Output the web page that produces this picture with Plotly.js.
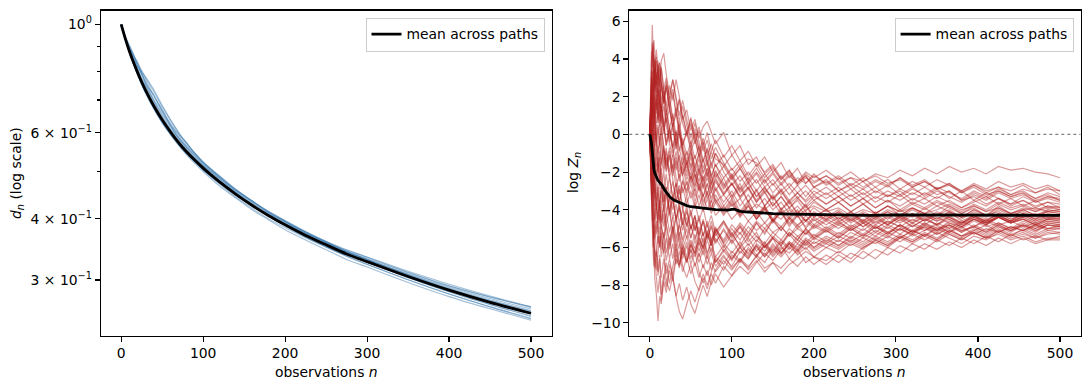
<!DOCTYPE html>
<html><head><meta charset="utf-8">
<script src="https://cdn.plot.ly/plotly-3.0.1.min.js"></script>
<style>html,body{margin:0;padding:0;background:#fff;}#chart{width:1089px;height:390px;}</style>
</head><body><div id="chart"></div>
<script>
// ---------- left panel: d_n (log scale) ----------
const nBlue = [0,5,10,15,20,25,30,40,50,60,70,80,90,100,120,140,160,180,200,225,250,275,300,350,400,450,500];
const dMean = [1.000,0.935,0.881,0.836,0.797,0.762,0.732,0.680,0.638,0.603,0.573,0.548,0.527,0.508,0.476,0.449,0.426,0.406,0.389,0.370,0.354,0.339,0.327,0.305,0.286,0.270,0.2565];
const d01 = [1.000,0.944,0.903,0.865,0.833,0.804,0.776,0.728,0.679,0.636,0.599,0.570,0.545,0.523,0.488,0.458,0.434,0.412,0.395,0.374,0.358,0.342,0.330,0.308,0.289,0.273,0.2596];
const d02 = [1.000,0.940,0.894,0.857,0.821,0.789,0.761,0.711,0.667,0.627,0.593,0.564,0.543,0.521,0.486,0.456,0.432,0.411,0.393,0.374,0.359,0.345,0.334,0.311,0.292,0.277,0.2637];
const d03 = [1.000,0.940,0.890,0.849,0.813,0.777,0.750,0.697,0.654,0.618,0.584,0.559,0.538,0.516,0.483,0.453,0.430,0.409,0.391,0.372,0.356,0.340,0.327,0.3035,0.2837,0.2673,0.2534];
const d04 = [1.000,0.932,0.877,0.829,0.789,0.754,0.723,0.672,0.630,0.595,0.566,0.540,0.519,0.500,0.467,0.441,0.417,0.398,0.380,0.362,0.346,0.3305,0.3188,0.2965,0.2774,0.2619,0.2483];
const d05 = [1.000,0.933,0.878,0.832,0.793,0.756,0.726,0.673,0.632,0.597,0.568,0.544,0.523,0.505,0.474,0.448,0.426,0.407,0.391,0.373,0.3575,0.3434,0.3319,0.3105,0.2917,0.2768,0.2642];
const d06 = [1.000,0.935,0.894,0.865,0.837,0.792,0.754,0.717,0.670,0.624,0.596,0.573,0.543,0.521,0.490,0.460,0.435,0.412,0.395,0.374,0.356,0.339,0.326,0.3035,0.2837,0.2673,0.2527];
const d07 = [1.000,0.938,0.885,0.840,0.803,0.770,0.739,0.688,0.644,0.609,0.578,0.552,0.530,0.511,0.477,0.450,0.426,0.405,0.387,0.367,0.350,0.3356,0.3231,0.3004,0.2809,0.2646,0.2506];
const d08 = [1.000,0.932,0.877,0.832,0.791,0.756,0.725,0.675,0.633,0.600,0.570,0.546,0.524,0.504,0.471,0.443,0.420,0.400,0.384,0.366,0.351,0.3373,0.326,0.305,0.2874,0.2722,0.2591];
const d09 = [1.000,0.944,0.907,0.869,0.821,0.800,0.780,0.734,0.683,0.639,0.602,0.570,0.545,0.523,0.488,0.459,0.435,0.413,0.395,0.376,0.359,0.3434,0.3303,0.3074,0.2874,0.2714,0.2578];
const d10 = [1.000,0.937,0.885,0.844,0.809,0.773,0.747,0.694,0.649,0.612,0.582,0.555,0.532,0.513,0.480,0.453,0.429,0.410,0.394,0.376,0.360,0.3458,0.3342,0.3126,0.294,0.2781,0.2647];
const d11 = [1.000,0.935,0.878,0.833,0.793,0.758,0.728,0.678,0.638,0.605,0.576,0.552,0.532,0.515,0.483,0.456,0.434,0.414,0.397,0.377,0.359,0.3431,0.3303,0.3074,0.2874,0.2708,0.2565];
const d12 = [1.000,0.942,0.894,0.853,0.821,0.792,0.758,0.700,0.660,0.621,0.587,0.559,0.535,0.513,0.478,0.451,0.427,0.406,0.388,0.368,0.351,0.3356,0.3227,0.3004,0.2809,0.2641,0.2498];
const d13 = [1.000,0.930,0.874,0.828,0.787,0.751,0.721,0.670,0.628,0.596,0.567,0.543,0.523,0.504,0.474,0.447,0.425,0.405,0.389,0.371,0.356,0.3417,0.3303,0.3087,0.2903,0.2749,0.2616];
const d14 = [1.000,0.940,0.894,0.861,0.829,0.796,0.769,0.714,0.664,0.621,0.587,0.562,0.540,0.519,0.486,0.458,0.435,0.414,0.396,0.376,0.358,0.3424,0.3296,0.3065,0.2866,0.2700,0.2557];
const bluePaths = [d01,d02,d03,d04,d05,d06,d07,d08,d09,d10,d11,d12,d13,d14];
const leftYTicks = [1, 0.6, 0.4, 0.3];
const leftYTickText = ['10<sup>0</sup>','6 × 10<sup>−1</sup>','4 × 10<sup>−1</sup>','3 × 10<sup>−1</sup>'];
const leftYMinor = [0.5, 0.7, 0.8, 0.9];

// ---------- right panel: log Z_n ----------
const nRed = [0,1,2,3,4,5,6, 8,10,12,14, 17,20,24,28,32,36,40, 45,50,55,60,65,70,75,80,
  90,100,110,120,130,140,150,160,170,180,190,200,
  215,230,245,260,275,290,305,320,335,350,365,380,395,410,425,440,455,470,485,500];
const nMean = [0,1,2,3,4,5,6,8,10,12,15,18,20,25,30,35,40,45,50,60,70,80,90,95,100,103,106,110,120,130,150,170,200,230,250,270,300,330,360,400,430,460,500];
const zMean = [0,-0.2,-0.45,-0.9,-1.5,-1.85,-2.05,-2.3,-2.45,-2.55,-2.7,-2.95,-3.05,-3.35,-3.5,-3.6,-3.68,-3.78,-3.84,-3.9,-3.95,-3.99,-4.01,-4.02,-3.98,-3.97,-4.02,-4.08,-4.12,-4.15,-4.2,-4.23,-4.26,-4.29,-4.31,-4.3,-4.27,-4.28,-4.29,-4.27,-4.28,-4.29,-4.3];
const z01 = [0,2.0,3.9,5.8,4.5,3.2,4.0, 2.6,1.5,2.4,1.0, 0.2,1.1,-0.5,-1.2,-0.4,-1.6,-2.2, -1.5,-2.6,-2.1,-3.0,-2.6,-3.4,-3.0,-3.6, -3.2,-3.8,-3.4,-4.1,-3.7,-4.0,-3.6,-4.2,-3.9,-4.3,-4.0,-3.8, -4.1,-3.9,-4.3,-4.0,-4.2,-3.8,-4.1,-3.9,-4.2,-4.0,-3.7,-4.0,-3.8,-4.1,-3.9,-4.2,-4.0,-3.9,-4.1,-4.0];
const z02 = [0,-1.5,-3.0,-4.4,-5.8,-6.5,-7.6, -8.5,-9.9,-8.6,-9.0, -7.8,-8.4,-7.2,-7.8,-6.6,-7.0,-6.2, -6.8,-5.9,-6.3,-5.5,-6.0,-5.2,-5.7,-5.0, -5.6,-4.8,-5.3,-4.6,-5.1,-4.7,-5.2,-4.9,-5.4,-5.0,-5.3,-4.8, -5.1,-4.7,-5.0,-4.6,-4.9,-5.2,-4.8,-5.1,-4.7,-5.0,-4.8,-5.1,-4.9,-4.6,-4.9,-5.1,-4.8,-5.0,-4.7,-4.8];
const z03 = [0,1.2,0.4,1.6,2.6,1.8,2.9, 2.2,3.4,2.5,3.6, 2.4,3.0,1.8,2.4,1.2,1.9,0.8, 1.3,0.2,0.8,-0.2,0.4,0.7,0.1,-0.5, 0.1,-1.1,-0.6,-1.6,-1.2,-2.1,-1.7,-2.4,-2.0,-2.6,-2.2,-2.8, -2.4,-3.0,-2.6,-2.9,-2.5,-2.8,-2.3,-2.7,-2.4,-2.9,-2.6,-3.1,-2.7,-3.0,-2.8,-3.2,-2.9,-3.1,-2.8,-3.2];
const z04 = [0,0.8,1.9,1.1,2.3,3.1,2.2, 3.3,2.4,3.5,2.6, 1.6,2.5,1.3,0.4,1.1,0.0,-0.6, 0.1,-0.9,-0.3,-1.2,-0.6,-1.5,-0.9,-1.7, -1.1,-1.9,-1.4,-2.2,-1.6,-2.3,-1.8,-2.4,-1.9,-2.5,-2.0,-2.3, -1.9,-2.4,-2.0,-2.5,-2.1,-2.3,-1.9,-2.2,-1.8,-2.1,-1.7,-2.0,-1.8,-2.1,-1.7,-1.9,-1.8,-2.0,-2.1,-2.3];
const z05 = [0,-1.3,-0.5,-1.9,-2.8,-1.9,-3.2, -4.0,-3.1,-4.4,-5.0, -4.2,-5.4,-6.1,-5.3,-6.5,-5.8,-7.0, -7.6,-6.9,-7.8,-8.3,-7.6,-8.2,-7.4,-7.9, -7.0,-7.5,-6.7,-7.1,-6.4,-6.8,-6.1,-6.5,-6.0,-6.3,-5.8,-6.2, -5.8,-6.1,-5.7,-6.0,-5.6,-5.9,-5.5,-5.8,-5.4,-5.7,-5.3,-5.6,-5.2,-5.5,-5.3,-5.6,-5.4,-5.7,-5.5,-5.5];
const z06 = [0,-0.9,0.3,-0.6,0.7,-0.2,1.0, 0.1,-1.0,-0.1,-1.3, -2.0,-1.2,-2.3,-1.6,-2.8,-2.1,-3.1, -2.5,-3.4,-2.9,-3.8,-3.2,-4.0,-3.5,-4.3, -3.8,-4.5,-4.0,-4.6,-4.1,-4.7,-4.2,-4.5,-4.0,-4.4,-4.1,-4.6, -4.2,-4.6,-4.3,-4.7,-4.4,-4.1,-4.5,-4.2,-4.6,-4.3,-4.0,-4.4,-4.2,-4.5,-4.3,-4.6,-4.4,-4.2,-4.5,-4.3];
const z07 = [0,1.8,3.5,4.8,3.9,2.6,3.4, 1.8,0.6,1.4,-0.1, -1.5,-0.7,-2.2,-3.4,-2.6,-3.9,-4.6, -3.8,-5.0,-4.3,-5.6,-6.1,-5.3,-5.9,-5.1, -5.7,-5.0,-5.6,-4.9,-5.4,-5.8,-5.2,-5.6,-5.0,-5.4,-5.1,-5.5, -5.0,-5.4,-4.9,-5.3,-4.8,-5.2,-5.0,-5.4,-5.1,-4.8,-5.2,-4.9,-5.3,-5.0,-5.2,-4.9,-5.1,-4.8,-5.1,-5.0];
const z08 = [0,0.7,-0.4,0.9,0.1,1.3,0.5, 1.7,0.8,1.9,1.0, 0.0,0.9,-0.2,0.6,-0.5,0.3,-0.6, 0.2,-0.7,0.1,-0.9,-0.2,-1.1,-0.5,-1.3, -1.6,-2.3,-1.8,-2.6,-2.1,-2.8,-2.4,-3.0,-2.6,-3.1,-2.7,-3.2, -2.8,-3.3,-2.9,-3.4,-3.0,-3.3,-2.9,-3.2,-2.8,-3.2,-3.0,-3.5,-3.1,-3.4,-3.0,-3.3,-3.1,-3.6,-3.3,-3.5];
const z09 = [0,-1.1,-2.4,-1.5,-2.9,-3.8,-2.9, -4.1,-5.2,-4.3,-5.5, -6.3,-5.5,-6.6,-5.8,-6.9,-6.2,-7.3, -6.5,-7.4,-6.8,-7.6,-6.9,-7.5,-6.8,-7.3, -6.7,-7.2,-6.6,-7.0,-6.5,-7.1,-6.8,-7.4,-6.9,-6.6,-6.2,-6.5, -6.0,-6.3,-5.8,-6.1,-5.6,-5.9,-5.4,-5.7,-5.3,-5.6,-5.1,-5.4,-5.0,-5.3,-4.9,-5.2,-4.8,-5.1,-4.8,-4.9];
const z10 = [0,1.4,2.6,1.7,3.0,4.2,3.3, 4.5,3.4,2.6,3.5, 2.2,1.2,2.0,0.8,-0.3,0.5,-0.8, -1.6,-0.8,-2.0,-1.3,-2.4,-1.8,-2.7,-2.1, -2.9,-2.3,-3.1,-2.6,-3.3,-2.8,-3.4,-2.9,-3.5,-3.1,-3.6,-3.2, -3.7,-3.3,-3.8,-3.4,-3.9,-3.5,-3.8,-3.4,-3.7,-3.3,-3.6,-3.9,-3.5,-3.8,-3.4,-3.7,-3.5,-3.8,-3.6,-3.7];
const z11 = [0,-1.6,-3.2,-4.6,-3.7,-5.1,-6.4, -7.6,-8.4,-7.5,-8.8, -7.6,-6.8,-7.9,-7.0,-6.1,-6.9,-5.8, -6.5,-5.6,-6.3,-5.4,-6.1,-5.3,-5.9,-5.2, -4.6,-5.3,-4.7,-5.2,-4.6,-5.0,-4.5,-4.9,-4.4,-4.8,-4.5,-4.9, -4.5,-4.8,-4.4,-4.9,-4.5,-4.8,-4.4,-4.7,-4.3,-4.6,-4.4,-4.8,-4.5,-4.7,-4.4,-4.7,-4.5,-4.8,-4.5,-4.6];
const z12 = [0,1.1,2.3,3.4,2.5,3.7,2.8, 3.9,2.9,3.8,2.7, 1.7,2.6,1.4,2.2,1.0,1.8,0.6, -0.1,0.6,-0.5,0.2,-0.9,-0.3,-1.3,-0.7, -1.5,-2.2,-1.6,-2.4,-1.8,-2.5,-2.0,-2.6,-2.1,-2.7,-2.3,-2.6, -2.2,-2.7,-2.3,-2.8,-2.4,-2.7,-2.3,-2.8,-2.5,-2.9,-2.6,-3.0,-2.7,-3.1,-2.8,-3.0,-2.7,-3.1,-2.9,-3.0];
const z13 = [0,-0.7,-1.9,-1.0,-2.2,-3.1,-2.3, -3.5,-2.6,-3.8,-4.7, -3.9,-4.8,-5.6,-4.9,-5.9,-5.2,-6.1, -5.4,-6.3,-5.6,-6.5,-5.8,-6.6,-6.0,-6.8, -6.2,-6.7,-6.0,-6.5,-5.9,-6.4,-5.8,-6.3,-5.7,-6.1,-5.6,-6.0, -5.6,-5.9,-5.5,-5.8,-5.4,-5.7,-5.3,-5.6,-5.2,-5.5,-5.1,-5.4,-5.2,-5.5,-5.1,-5.4,-5.2,-5.5,-5.3,-5.2];
const z14 = [0,0.5,-0.6,-1.7,-0.8,-2.0,-1.2, -2.4,-1.5,-2.7,-1.8, -3.0,-2.1,-3.3,-2.5,-3.6,-2.9,-4.0, -3.3,-4.3,-3.6,-4.6,-3.9,-4.9,-4.3,-5.2, -4.6,-5.4,-4.9,-5.7,-5.2,-6.0,-5.5,-6.3,-5.8,-6.4,-6.0,-6.5, -6.7,-6.2,-6.6,-6.0,-5.7,-6.0,-5.5,-5.1,-5.4,-4.9,-5.2,-4.7,-4.4,-4.7,-4.3,-4.6,-4.2,-4.5,-4.0,-4.1];
const z15 = [0,0.9,1.8,0.7,1.9,2.8,3.9, 2.9,2.0,2.9,1.6, 0.6,-0.4,0.4,-0.8,-1.9,-1.1,-2.2, -3.0,-2.2,-3.3,-2.6,-3.6,-3.0,-3.9,-3.2, -4.0,-3.4,-4.2,-3.6,-4.3,-3.8,-4.5,-3.9,-4.4,-4.0,-4.6,-4.2, -4.6,-4.2,-4.7,-4.3,-4.8,-4.4,-4.7,-4.3,-4.6,-4.2,-4.5,-4.8,-4.4,-4.7,-4.3,-4.6,-4.4,-4.7,-4.5,-4.5];
const z16 = [0,-1.2,-2.5,-3.7,-4.9,-6.0,-7.1, -6.2,-7.3,-6.4,-7.6, -6.6,-7.7,-8.3,-7.5,-8.6,-7.9,-8.8, -8.1,-9.0,-9.5,-8.7,-8.0,-8.6,-7.8,-7.2, -6.5,-7.0,-6.2,-6.6,-5.8,-6.2,-5.5,-5.9,-5.2,-5.6,-5.0,-5.4, -4.9,-5.3,-4.8,-5.1,-4.6,-5.0,-4.5,-4.9,-4.5,-4.8,-4.3,-4.7,-4.4,-4.6,-4.2,-4.5,-4.3,-4.6,-4.3,-4.4];
const z17 = [0,-0.8,-2.0,-3.2,-2.3,-3.5,-4.6, -3.7,-4.9,-6.0,-5.2, -6.4,-7.4,-6.6,-7.7,-8.6,-9.4,-9.8, -9.0,-8.3,-8.9,-8.1,-7.4,-8.0,-7.3,-6.6, -7.2,-6.4,-6.8,-6.1,-6.5,-5.8,-6.2,-5.6,-6.0,-5.4,-5.8,-5.3, -5.7,-5.2,-5.5,-5.0,-5.4,-4.9,-5.3,-4.8,-5.1,-4.7,-5.0,-4.6,-4.9,-4.5,-4.8,-4.6,-4.9,-4.7,-5.0,-4.8];
const z18 = [0,1.3,0.5,1.8,1.0,2.2,1.4, 0.6,1.7,0.7,1.5, 0.4,1.3,0.2,-0.7,0.1,-0.9,-0.2, -1.1,-0.4,-1.3,-0.6,-1.5,-0.8,-1.6,-1.0, -1.7,-1.1,-1.8,-1.3,-1.5,-2.0,-1.6,-2.3,-1.9,-2.6,-2.2,-2.8, -2.5,-3.0,-2.7,-3.2,-2.8,-3.3,-3.0,-3.5,-3.1,-3.4,-3.0,-3.5,-3.3,-3.7,-3.4,-3.8,-3.5,-3.9,-3.6,-3.9];
const z19 = [0,0.4,-0.8,0.2,-1.1,-0.2,-1.4, -2.5,-1.6,-2.8,-3.8, -3.0,-4.1,-3.4,-4.5,-3.7,-4.7,-4.0, -4.9,-4.2,-5.1,-4.5,-5.4,-4.8,-5.6,-5.0, -5.8,-5.2,-6.0,-5.5,-6.2,-5.7,-6.4,-5.9,-6.6,-6.1,-6.8,-6.5, -6.9,-6.4,-6.8,-6.2,-6.6,-6.0,-6.3,-5.8,-6.1,-5.6,-5.9,-5.5,-5.8,-5.4,-5.7,-5.3,-5.6,-5.4,-5.6,-5.4];
const z20 = [0,1.5,2.8,3.9,4.6,3.6,2.5, 3.2,2.0,0.9,1.7, 0.4,-0.6,0.2,-1.0,-0.2,-1.3,-2.1, -1.4,-2.4,-1.7,-2.7,-3.3,-2.6,-3.4,-2.8, -3.6,-3.0,-3.8,-3.2,-3.9,-3.4,-4.0,-3.6,-4.2,-3.8,-4.3,-3.9, -4.4,-4.0,-4.5,-4.1,-4.4,-4.0,-4.3,-3.9,-4.2,-4.5,-4.1,-4.4,-4.0,-4.3,-4.1,-4.4,-4.0,-4.3,-4.1,-4.2];
const z21 = [0,-0.6,0.6,1.5,0.5,1.6,0.7, -0.4,0.5,-0.6,0.4, -0.8,-1.7,-0.9,-2.0,-1.2,-2.3,-1.5, -2.4,-1.8,-2.7,-2.0,-2.9,-2.3,-3.1,-2.5, -3.2,-2.6,-3.3,-2.8,-3.5,-2.9,-3.4,-3.0,-3.6,-3.1,-3.5,-3.0, -3.4,-3.0,-3.5,-3.1,-3.6,-3.2,-3.5,-3.1,-3.4,-3.0,-3.3,-3.6,-3.2,-3.5,-3.1,-3.4,-3.2,-3.5,-3.3,-3.4];
const z22 = [0,-1.0,-0.2,-1.4,-2.5,-1.6,-2.7, -3.8,-2.8,-3.9,-3.0, -4.1,-3.2,-4.3,-3.5,-4.5,-3.8,-4.8, -4.1,-5.0,-4.4,-5.3,-4.6,-5.5,-4.9,-5.7, -5.1,-5.8,-5.2,-5.9,-5.4,-6.0,-5.5,-5.9,-5.3,-5.8,-5.2,-5.6, -5.1,-5.5,-5.0,-5.4,-4.9,-5.3,-4.8,-5.2,-4.9,-5.3,-5.0,-5.4,-5.1,-4.8,-5.2,-4.9,-5.1,-4.8,-5.0,-4.9];
const z23 = [0,1.2,2.5,3.6,4.5,5.0,4.1, 3.0,3.9,2.8,1.7, 2.5,1.4,0.3,1.1,-0.1,0.7,-0.5, -1.4,-0.6,-1.7,-1.0,-2.1,-1.5,-2.5,-1.9, -2.8,-2.2,-3.0,-2.5,-3.3,-2.8,-3.5,-3.0,-3.7,-3.3,-3.9,-3.5, -4.0,-3.6,-4.1,-3.7,-4.2,-3.8,-4.1,-3.7,-4.0,-3.6,-3.9,-4.2,-3.8,-4.1,-3.7,-4.0,-3.8,-4.1,-3.9,-4.0];
const z24 = [0,-1.7,-3.4,-4.9,-6.0,-5.1,-4.2, -5.3,-4.4,-3.5,-4.6, -3.7,-4.8,-4.0,-5.1,-4.3,-5.4,-4.6, -5.5,-4.8,-5.6,-4.9,-5.8,-5.1,-5.9,-5.2, -6.0,-5.3,-5.9,-5.2,-5.7,-5.0,-5.5,-4.9,-5.4,-4.8,-5.3,-4.9, -5.2,-4.8,-5.1,-4.7,-5.0,-4.6,-4.9,-5.2,-4.8,-5.1,-4.7,-5.0,-4.6,-4.9,-4.7,-5.0,-4.6,-4.9,-4.6,-4.7];
const z25 = [0,0.6,1.4,0.5,1.7,0.8,2.0, 1.1,2.3,1.4,2.6, 1.7,2.8,1.9,2.9,2.0,1.0,1.8, 0.8,-0.2,0.6,-0.5,-1.4,-0.7,-1.8,-1.0, -2.0,-2.7,-2.2,-2.9,-2.4,-3.1,-2.6,-3.2,-2.8,-3.4,-3.0,-3.5, -3.1,-3.6,-3.2,-3.7,-3.3,-3.6,-3.2,-3.7,-3.4,-3.8,-3.5,-3.9,-3.6,-3.3,-3.7,-3.4,-3.8,-3.5,-3.9,-3.8];
const z26 = [0,-0.5,-1.5,-2.6,-1.8,-3.0,-2.2, -3.4,-4.5,-3.6,-4.8, -5.6,-4.8,-5.9,-5.1,-6.2,-5.4,-6.4, -5.7,-6.6,-5.9,-6.8,-6.1,-6.9,-6.3,-7.0, -6.4,-7.1,-6.6,-7.2,-6.7,-7.3,-6.8,-7.1,-6.6,-7.0,-6.5,-6.9, -6.4,-6.8,-6.3,-6.6,-6.1,-6.4,-5.9,-6.2,-5.8,-6.1,-5.7,-6.0,-5.6,-5.9,-5.5,-5.8,-5.5,-5.8,-5.6,-5.6];
const z27 = [0,0.8,1.6,2.4,1.5,2.7,3.5, 2.6,3.7,2.8,3.9, 4.3,3.2,2.1,2.9,1.8,0.7,1.5, 0.4,-0.5,0.3,-0.8,-1.8,-1.1,-2.2,-3.0, -2.3,-3.3,-2.6,-3.6,-2.9,-3.8,-3.2,-4.0,-3.5,-4.2,-3.7,-4.4, -4.0,-4.5,-4.1,-4.6,-4.2,-4.7,-4.3,-4.6,-4.2,-4.5,-4.1,-4.6,-4.3,-4.7,-4.4,-4.6,-4.2,-4.5,-4.3,-4.4];
const z28 = [0,-0.7,0.4,-0.5,0.8,1.7,0.9, 1.9,1.0,2.1,1.2, 2.3,1.5,2.6,1.8,2.9,2.0,1.0, 0.1,0.9,-0.2,-1.1,-0.4,-1.5,-2.3,-1.6, -2.6,-3.4,-2.8,-3.6,-3.0,-3.8,-3.3,-4.0,-3.6,-4.2,-3.8,-4.4, -4.0,-4.5,-4.1,-4.7,-4.3,-4.8,-4.4,-4.9,-4.5,-4.8,-4.4,-4.7,-4.3,-4.6,-4.4,-4.7,-4.3,-4.6,-4.4,-4.5];
const z29 = [0,-1.4,-2.7,-1.8,-3.3,-4.4,-5.5, -4.6,-5.8,-4.9,-6.1, -5.2,-6.3,-5.5,-6.6,-5.8,-6.9,-6.0, -6.8,-6.1,-7.0,-6.3,-7.1,-6.4,-7.2,-6.5, -6.9,-6.2,-6.7,-6.0,-6.5,-5.9,-6.3,-5.7,-6.1,-5.6,-5.9,-5.5, -5.8,-5.4,-5.7,-5.3,-5.6,-5.2,-5.5,-5.1,-5.4,-5.0,-5.3,-5.6,-5.2,-5.5,-5.1,-5.4,-5.0,-5.3,-5.0,-5.0];
const z30 = [0,0.3,1.1,2.0,1.2,0.3,1.2, 2.1,1.3,0.4,1.3, 0.3,-0.6,0.3,-0.7,0.2,-0.8,-1.6, -0.9,-1.8,-1.1,-2.0,-1.3,-2.2,-1.5,-2.3, -1.7,-2.4,-1.8,-2.5,-2.0,-2.6,-2.1,-2.7,-2.2,-2.6,-2.1,-2.5, -2.2,-2.6,-2.3,-2.5,-2.2,-2.6,-2.4,-2.8,-2.5,-2.9,-2.7,-3.1,-2.8,-3.2,-3.0,-3.3,-3.1,-3.4,-3.2,-3.5];
const z31 = [0,-1.2,-2.6,-1.5,-0.4,-1.6,-0.5, -1.7,-0.6,-1.9,-2.9, -2.0,-3.1,-2.3,-3.4,-2.6,-3.6,-2.8, -3.7,-3.0,-3.9,-3.2,-4.1,-3.4,-4.2,-3.6, -4.3,-3.7,-4.4,-3.8,-4.5,-3.9,-4.6,-4.0,-4.5,-4.1,-4.6,-4.2, -4.5,-4.1,-4.6,-4.2,-4.5,-4.1,-4.4,-4.0,-4.3,-4.6,-4.2,-4.5,-4.1,-4.4,-4.0,-4.3,-4.1,-4.4,-4.1,-4.2];
const z32 = [0,1.6,3.1,2.0,0.9,2.1,1.0, -0.4,-1.8,-0.9,-2.3, -3.6,-2.8,-4.1,-5.3,-4.5,-5.7,-6.6, -5.9,-6.9,-6.2,-7.3,-7.9,-7.2,-8.0,-7.4, -8.1,-7.5,-7.0,-7.4,-6.8,-6.3,-6.7,-6.1,-5.7,-6.0,-5.5,-5.8, -5.4,-5.7,-5.2,-5.5,-5.1,-5.4,-5.0,-5.3,-4.9,-5.2,-4.8,-5.1,-4.9,-5.2,-4.8,-5.1,-4.9,-5.2,-4.8,-4.9];
const z33 = [0,0.9,1.7,2.6,1.8,2.7,3.5, 2.6,3.4,3.8,2.9, 1.8,2.6,1.5,0.4,1.2,0.1,-0.9, -1.8,-1.0,-2.1,-2.9,-2.2,-3.2,-2.5,-3.5, -4.1,-3.5,-4.3,-3.7,-4.5,-3.9,-4.7,-4.1,-4.8,-4.3,-4.9,-4.4, -4.8,-4.4,-4.9,-4.5,-5.0,-4.6,-4.9,-4.5,-4.8,-4.4,-4.7,-4.9,-4.5,-4.8,-4.4,-4.7,-4.5,-4.8,-4.5,-4.6];
const z34 = [0,-1.3,-2.6,-3.8,-4.9,-5.6,-6.2, -6.5,-5.4,-6.0,-4.9, -5.5,-4.4,-3.3,-4.0,-2.9,-3.6,-2.5, -3.1,-2.2,-2.8,-1.9,-2.5,-1.8,-2.6,-2.0, -2.7,-2.1,-2.9,-2.3,-3.0,-2.4,-3.1,-2.6,-3.2,-2.7,-3.3,-2.8, -3.2,-2.8,-3.3,-2.9,-3.4,-3.0,-3.3,-2.9,-3.2,-2.8,-3.1,-3.4,-3.0,-3.3,-2.9,-3.2,-3.0,-3.4,-3.1,-3.3];
const z35 = [0,2.5,4.4,3.6,4.9,4.0,3.1, 4.1,3.0,2.0,2.8, 1.6,0.6,1.4,0.2,-0.8,0.0,-1.1, -2.0,-1.2,-2.3,-1.6,-2.6,-2.0,-2.9,-2.3, -3.1,-2.6,-3.3,-2.8,-3.6,-3.0,-3.8,-3.3,-3.9,-3.5,-4.1,-3.6, -4.0,-3.6,-4.1,-3.7,-4.2,-3.8,-4.3,-3.9,-4.2,-3.8,-4.1,-4.4,-4.0,-4.3,-3.9,-4.2,-4.0,-4.3,-4.0,-4.1];
const z36 = [0,-1.8,-3.5,-2.6,-4.2,-5.6,-4.8, -6.3,-7.5,-6.6,-8.5, -7.4,-8.1,-6.9,-7.5,-6.4,-7.1,-6.0, -6.7,-5.8,-6.5,-5.7,-6.4,-5.6,-6.3,-5.5, -6.2,-5.6,-6.3,-5.8,-6.4,-5.9,-6.5,-6.0,-6.3,-5.8,-6.1,-5.7, -6.0,-5.6,-5.9,-5.5,-5.8,-5.4,-5.7,-5.3,-5.6,-5.2,-5.5,-5.8,-5.4,-5.6,-5.2,-5.5,-5.3,-5.5,-5.2,-5.3];
const z37 = [0,0.4,-0.8,0.3,-0.9,0.2,-1.0, -2.1,-1.2,-2.4,-1.5, -0.6,-1.6,-0.7,-1.8,-0.9,-2.0,-1.2, -2.2,-1.5,-2.5,-1.8,-2.8,-2.1,-3.0,-2.4, -3.2,-2.6,-3.4,-2.9,-3.6,-3.1,-3.8,-3.3,-3.9,-3.4,-3.8,-3.3, -3.7,-3.3,-3.8,-3.4,-3.9,-3.5,-4.0,-3.6,-3.9,-3.5,-3.8,-4.1,-3.7,-4.0,-3.6,-3.9,-3.7,-4.0,-3.8,-3.9];
const z38 = [0,-0.9,-2.1,-3.3,-2.4,-3.6,-4.5, -3.6,-4.7,-3.7,-2.8, -3.9,-3.0,-4.2,-3.3,-4.5,-3.6,-4.8, -4.0,-5.1,-4.3,-5.4,-4.6,-5.6,-4.8,-5.8, -5.0,-5.7,-4.9,-5.5,-4.7,-5.3,-4.5,-5.1,-4.4,-4.9,-4.3,-4.8, -4.3,-4.7,-4.2,-4.6,-4.1,-4.5,-4.0,-4.4,-3.9,-4.3,-3.8,-4.2,-3.9,-4.3,-3.8,-4.2,-3.9,-4.1,-3.8,-4.0];
const z39 = [0,1.0,2.1,3.0,2.1,1.2,0.3, -0.9,-2.0,-1.2,-2.5, -3.6,-2.8,-4.0,-3.3,-4.6,-3.9,-5.1, -4.4,-5.5,-4.8,-5.9,-5.2,-6.3,-5.6,-6.8, -6.1,-6.6,-5.9,-6.3,-5.6,-6.0,-5.4,-5.8,-5.2,-5.6,-5.0,-5.5, -5.1,-5.5,-5.0,-5.4,-4.9,-5.3,-4.8,-5.2,-4.7,-5.1,-4.8,-5.2,-4.9,-5.2,-4.8,-5.1,-4.7,-5.0,-4.7,-4.8];
const z40 = [0,-0.5,0.7,1.8,2.8,1.9,2.9, 2.0,3.0,2.1,1.2, 2.0,1.0,1.8,0.7,1.4,0.3,1.0, 0.0,0.8,-0.3,0.4,-0.6,0.1,-0.9,-0.3, -1.2,-0.6,-1.4,-0.9,-1.7,-1.2,-2.0,-1.5,-2.3,-1.8,-2.6,-2.1, -2.7,-2.3,-2.9,-2.5,-3.1,-2.7,-3.2,-2.8,-3.3,-2.9,-3.4,-3.0,-3.5,-3.1,-3.4,-3.7,-3.3,-3.6,-3.4,-3.6];
const z41 = [0,-0.6,-1.4,-2.3,-1.4,-2.6,-3.4, -2.5,-3.7,-4.6,-3.8, -4.9,-4.1,-5.2,-4.4,-5.5,-4.7,-5.8, -5.0,-6.0,-5.3,-6.2,-5.5,-6.4,-5.7,-6.5, -5.9,-6.6,-6.0,-6.6,-6.0,-6.5,-5.9,-6.3,-5.8,-6.2,-5.7,-6.1, -5.7,-6.0,-5.6,-5.9,-5.5,-5.8,-5.4,-5.7,-5.3,-5.6,-5.2,-5.5,-5.1,-5.4,-5.0,-5.3,-5.1,-5.4,-5.1,-5.2];
const z42 = [0,0.9,0.1,1.1,0.2,1.3,2.2, 1.3,2.4,1.5,0.6, 1.5,0.5,-0.4,0.4,-0.6,0.2,-0.8, -1.6,-0.9,-1.8,-1.1,-2.0,-1.4,-2.2,-1.6, -2.3,-1.8,-2.5,-2.0,-2.6,-2.1,-2.7,-2.2,-2.8,-2.3,-2.6,-2.2, -2.6,-2.2,-2.7,-2.3,-2.8,-2.4,-2.9,-2.5,-2.8,-2.4,-2.7,-3.0,-2.6,-2.9,-2.5,-2.8,-2.6,-2.9,-2.7,-3.0];
const z43 = [0,-0.4,0.5,-0.3,0.6,-0.4,0.5, -0.6,0.4,-0.7,-1.6, -0.8,-1.9,-1.1,-2.2,-1.4,-2.5,-1.7, -2.7,-2.0,-3.0,-2.3,-3.3,-2.6,-3.6,-2.9, -3.8,-3.2,-4.1,-3.5,-4.4,-3.8,-4.6,-4.1,-4.9,-4.3,-5.0,-4.5, -5.0,-4.6,-5.1,-4.7,-5.2,-4.8,-5.1,-4.7,-5.0,-5.3,-4.9,-5.2,-4.8,-5.1,-4.7,-5.0,-4.8,-5.1,-4.8,-4.9];
const z44 = [0,-1.4,-2.5,-1.5,-0.6,0.3,-0.6, 0.5,1.2,0.3,-0.7, -1.8,-0.9,-2.0,-1.1,-2.3,-3.2,-2.4, -3.3,-2.6,-3.6,-2.8,-3.8,-3.1,-4.0,-3.4, -4.2,-3.6,-4.3,-3.8,-4.5,-4.0,-4.6,-4.1,-4.7,-4.2,-4.6,-4.1, -4.5,-4.1,-4.6,-4.2,-4.7,-4.3,-4.6,-4.2,-4.5,-4.1,-4.4,-4.7,-4.3,-4.6,-4.2,-4.5,-4.2,-4.5,-4.2,-4.3];
const z45 = [0,-1.9,-3.7,-5.2,-6.3,-7.0,-6.1, -7.2,-6.3,-5.4,-6.5, -5.6,-6.7,-5.8,-4.9,-5.7,-4.8,-5.6, -4.7,-5.5,-4.6,-5.4,-4.5,-5.3,-4.6,-5.4, -4.7,-5.5,-4.8,-5.4,-4.7,-5.2,-4.6,-5.1,-4.5,-5.0,-4.6,-5.0, -4.6,-5.0,-4.5,-4.9,-4.4,-4.8,-4.3,-4.7,-4.4,-4.8,-4.5,-4.9,-4.5,-4.8,-4.4,-4.7,-4.4,-4.7,-4.4,-4.5];
const z46 = [0,1.3,2.4,3.3,2.5,3.4,2.6, 1.5,2.5,1.4,0.3, -0.9,-2.0,-1.1,-2.4,-3.5,-2.7,-3.9, -4.8,-4.0,-5.1,-4.3,-5.4,-4.6,-5.7,-4.9, -5.8,-6.3,-5.7,-6.4,-5.9,-6.5,-6.0,-6.4,-5.8,-6.2,-5.6,-6.0, -5.5,-5.9,-5.4,-5.7,-5.2,-5.5,-5.0,-5.3,-4.8,-5.1,-4.6,-4.9,-4.5,-4.8,-4.4,-4.7,-4.5,-4.8,-4.6,-4.7];
const redPaths = [z01,z02,z03,z04,z05,z06,z07,z08,z09,z10,z11,z12,z13,z14,z15,z16,z17,z18,z19,z20,z21,z22,z23,
  z24,z25,z26,z27,z28,z29,z30,z31,z32,z33,z34,z35,z36,z37,z38,z39,z40,z41,z42,z43,z44,z45,z46];
const rightYTicks = [-10,-8,-6,-4,-2,0,2,4,6];
const xTicks = [0,100,200,300,400,500];

// ---------- drawing ----------
const W = 1089, H = 390;
const px = v => v / W, py = v => 1 - v / H;
const FONT = 'DejaVu Sans, sans-serif';
const FS = 13.9;
const traces = [];
bluePaths.forEach(p => traces.push({x: nBlue, y: p, type: 'scatter', mode: 'lines', line: {shape: 'spline', smoothing: 0.6,
  color: 'rgba(70,130,180,0.5)', width: 1.1}, xaxis: 'x', yaxis: 'y', showlegend: false, hoverinfo: 'skip'}));
traces.push({x: nBlue, y: dMean, type: 'scatter', mode: 'lines', name: 'mean across paths',
  line: {color: 'black', width: 2.8, shape: 'spline', smoothing: 0.6}, xaxis: 'x', yaxis: 'y', legend: 'legend', hoverinfo: 'skip'});
redPaths.forEach(p => traces.push({x: nRed, y: p, type: 'scatter', mode: 'lines',
  line: {color: 'rgba(178,34,34,0.45)', width: 1.2}, xaxis: 'x2', yaxis: 'y2', showlegend: false, hoverinfo: 'skip'}));
traces.push({x: nMean, y: zMean, type: 'scatter', mode: 'lines', name: 'mean across paths',
  line: {color: 'black', width: 2.8}, xaxis: 'x2', yaxis: 'y2', legend: 'legend2', hoverinfo: 'skip'});

const axBase = {ticks: 'outside', ticklen: 4.9, tickwidth: 1.1, tickcolor: 'black', showline: true,
  linecolor: 'black', linewidth: 1.1, mirror: true, showgrid: false, zeroline: false,
  tickfont: {family: FONT, size: FS, color: 'black'}};
const yDom = [py(335.5), py(10.5)];
const legBase = {bgcolor: 'rgba(255,255,255,0.8)', bordercolor: '#cccccc', borderwidth: 1,
  font: {family: FONT, size: FS, color: 'black'}, xanchor: 'right', yanchor: 'top'};
const titleFont = {family: FONT, size: FS, color: 'black'};
const layout = {
  width: W, height: H, margin: {l: 0, r: 0, t: 0, b: 0}, paper_bgcolor: 'white', plot_bgcolor: 'white',
  font: {family: FONT, size: FS, color: 'black'},
  xaxis: Object.assign({}, axBase, {domain: [px(100.7), px(551.5)], range: [-25, 525], tickvals: xTicks, anchor: 'y'}),
  yaxis: Object.assign({}, axBase, {domain: yDom, type: 'log', range: [-0.6364, 0.0282], tickvals: leftYTicks,
    ticktext: leftYTickText, anchor: 'x',
    minor: {tickvals: leftYMinor, ticks: 'outside', ticklen: 2.8, tickwidth: 1.1, tickcolor: 'black', showgrid: false}}),
  xaxis2: Object.assign({}, axBase, {domain: [px(629.3), px(1080.5)], range: [-25, 525], tickvals: xTicks, anchor: 'y2'}),
  yaxis2: Object.assign({}, axBase, {domain: yDom, range: [-10.67, 6.57], tickvals: rightYTicks, anchor: 'x2'}),
  legend: Object.assign({}, legBase, {x: px(544.5), y: py(17.5)}),
  legend2: Object.assign({}, legBase, {x: px(1073.6), y: py(17.5)}),
  shapes: [{type: 'line', xref: 'x2 domain', x0: 0, x1: 1, yref: 'y2', y0: 0, y1: 0, layer: 'below',
    line: {color: '#808080', width: 1.1, dash: 'dot'}}],
  annotations: [
    {text: 'observations <i>n</i>', xref: 'paper', yref: 'paper', x: px(326.1), y: py(372), showarrow: false, xanchor: 'center', yanchor: 'middle', font: titleFont},
    {text: 'observations <i>n</i>', xref: 'paper', yref: 'paper', x: px(854.9), y: py(372), showarrow: false, xanchor: 'center', yanchor: 'middle', font: titleFont},
    {text: '<i>d</i><sub><i>n</i></sub> (log scale)', xref: 'paper', yref: 'paper', x: px(17), y: py(173), textangle: -90, showarrow: false, xanchor: 'center', yanchor: 'middle', font: titleFont},
    {text: 'log <i>Z</i><sub><i>n</i></sub>', xref: 'paper', yref: 'paper', x: px(574), y: py(173), textangle: -90, showarrow: false, xanchor: 'center', yanchor: 'middle', font: titleFont}
  ]
};
Plotly.newPlot('chart', traces, layout, {staticPlot: true, displayModeBar: false});
</script>
</body></html>
